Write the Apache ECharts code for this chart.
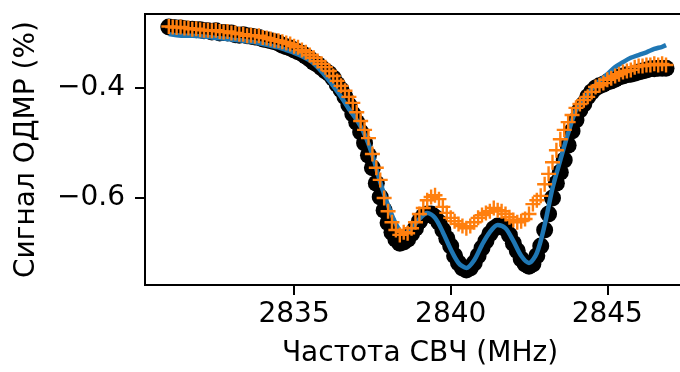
<!DOCTYPE html>
<html>
<head>
<meta charset="utf-8">
<script src="https://cdn.jsdelivr.net/npm/echarts@6/dist/echarts.min.js"></script>
<style>
  body { margin: 0; background: #fff; }
  #chart { width: 680px; height: 372px; }
</style>
</head>
<body>
<div id="chart"></div>
<script>
// частота СВЧ, MHz (шаг развертки)
const freq = [
  2831, 2831.125, 2831.25, 2831.375, 2831.5, 2831.625, 2831.75, 2831.875,
  2832, 2832.125, 2832.25, 2832.375, 2832.5, 2832.625, 2832.75, 2832.875,
  2833, 2833.125, 2833.25, 2833.375, 2833.5, 2833.625, 2833.75, 2833.875,
  2834, 2834.125, 2834.25, 2834.375, 2834.5, 2834.625, 2834.75, 2834.875,
  2835, 2835.125, 2835.25, 2835.375, 2835.5, 2835.625, 2835.75, 2835.875,
  2836, 2836.125, 2836.25, 2836.375, 2836.5, 2836.625, 2836.75, 2836.875,
  2837, 2837.125, 2837.25, 2837.375, 2837.5, 2837.625, 2837.75, 2837.875,
  2838, 2838.125, 2838.25, 2838.375, 2838.5, 2838.625, 2838.75, 2838.875,
  2839, 2839.125, 2839.25, 2839.375, 2839.5, 2839.625, 2839.75, 2839.875,
  2840, 2840.125, 2840.25, 2840.375, 2840.5, 2840.625, 2840.75, 2840.875,
  2841, 2841.125, 2841.25, 2841.375, 2841.5, 2841.625, 2841.75, 2841.875,
  2842, 2842.125, 2842.25, 2842.375, 2842.5, 2842.625, 2842.75, 2842.875,
  2843, 2843.125, 2843.25, 2843.375, 2843.5, 2843.625, 2843.75, 2843.875,
  2844, 2844.125, 2844.25, 2844.375, 2844.5, 2844.625, 2844.75, 2844.875,
  2845, 2845.125, 2845.25, 2845.375, 2845.5, 2845.625, 2845.75, 2845.875,
  2846, 2846.125, 2846.25, 2846.375, 2846.5, 2846.625, 2846.75, 2846.875
];

// сигнал ОДМР, черные точки
const signalBlack = [
  -0.290, -0.291, -0.292, -0.292, -0.293, -0.294, -0.294, -0.295,
  -0.295, -0.297, -0.297, -0.299, -0.297, -0.301, -0.300, -0.301,
  -0.301, -0.304, -0.305, -0.304, -0.306, -0.307, -0.308, -0.309,
  -0.312, -0.313, -0.315, -0.317, -0.319, -0.323, -0.326, -0.328,
  -0.332, -0.335, -0.338, -0.343, -0.348, -0.354, -0.358, -0.364,
  -0.370, -0.375, -0.383, -0.394, -0.404, -0.417, -0.432, -0.448,
  -0.463, -0.481, -0.501, -0.523, -0.546, -0.574, -0.599, -0.623,
  -0.646, -0.663, -0.676, -0.683, -0.681, -0.676, -0.666, -0.656,
  -0.643, -0.634, -0.630, -0.630, -0.636, -0.645, -0.659, -0.674,
  -0.688, -0.706, -0.719, -0.728, -0.732, -0.728, -0.719, -0.706,
  -0.692, -0.679, -0.666, -0.657, -0.652, -0.652, -0.657, -0.668,
  -0.683, -0.697, -0.712, -0.721, -0.725, -0.721, -0.706, -0.688,
  -0.659, -0.630, -0.601, -0.574, -0.554, -0.532, -0.505, -0.479,
  -0.459, -0.441, -0.430, -0.417, -0.408, -0.401, -0.397, -0.394,
  -0.390, -0.388, -0.385, -0.381, -0.379, -0.377, -0.376, -0.374,
  -0.372, -0.370, -0.368, -0.366, -0.366, -0.365, -0.365, -0.365
];

// сигнал ОДМР, оранжевые кресты
const signalOrange = [
  -0.289, -0.290, -0.291, -0.290, -0.292, -0.292, -0.294, -0.293,
  -0.295, -0.296, -0.296, -0.297, -0.296, -0.298, -0.299, -0.298,
  -0.301, -0.301, -0.303, -0.303, -0.306, -0.305, -0.307, -0.306,
  -0.309, -0.310, -0.312, -0.314, -0.315, -0.317, -0.319, -0.321,
  -0.325, -0.327, -0.332, -0.336, -0.341, -0.346, -0.352, -0.357,
  -0.363, -0.370, -0.379, -0.388, -0.397, -0.406, -0.417, -0.428,
  -0.445, -0.461, -0.477, -0.492, -0.521, -0.546, -0.568, -0.601,
  -0.625, -0.645, -0.659, -0.668, -0.663, -0.665, -0.656, -0.645,
  -0.630, -0.619, -0.605, -0.599, -0.596, -0.603, -0.617, -0.628,
  -0.637, -0.643, -0.648, -0.652, -0.656, -0.652, -0.645, -0.637,
  -0.632, -0.628, -0.625, -0.619, -0.623, -0.625, -0.630, -0.636,
  -0.641, -0.645, -0.643, -0.639, -0.630, -0.612, -0.605, -0.597,
  -0.576, -0.557, -0.536, -0.514, -0.494, -0.477, -0.463, -0.450,
  -0.437, -0.430, -0.423, -0.417, -0.408, -0.399, -0.396, -0.392,
  -0.386, -0.383, -0.379, -0.376, -0.372, -0.370, -0.368, -0.363,
  -0.361, -0.361, -0.359, -0.359, -0.357, -0.359, -0.357, -0.359
];

// аппроксимация (синяя линия)
const fitFreq = [
  2831, 2831.25, 2831.5, 2831.75, 2832, 2832.25, 2832.5, 2832.75,
  2833, 2833.25, 2833.5, 2833.75, 2834, 2834.25, 2834.5, 2834.75,
  2835, 2835.25, 2835.5, 2835.75, 2836, 2836.25, 2836.5, 2836.75,
  2837, 2837.25, 2837.5, 2837.75, 2838, 2838.25, 2838.5, 2838.75,
  2839, 2839.25, 2839.5, 2839.75, 2840, 2840.25, 2840.5, 2840.75,
  2841, 2841.25, 2841.5, 2841.75, 2842, 2842.25, 2842.5, 2842.75,
  2843, 2843.25, 2843.5, 2843.75, 2844, 2844.25, 2844.5, 2844.75,
  2845, 2845.25, 2845.5, 2845.75, 2846, 2846.25, 2846.5, 2846.75,
  2846.875
];
const fitSignal = [
  -0.303, -0.305, -0.306, -0.306, -0.307, -0.308, -0.310, -0.311,
  -0.313, -0.314, -0.316, -0.318, -0.321, -0.324, -0.327, -0.332,
  -0.337, -0.343, -0.351, -0.363, -0.379, -0.397, -0.417, -0.439,
  -0.459, -0.485, -0.523, -0.572, -0.614, -0.648, -0.666, -0.656,
  -0.639, -0.628, -0.637, -0.663, -0.694, -0.719, -0.728, -0.714,
  -0.686, -0.663, -0.650, -0.656, -0.679, -0.706, -0.719, -0.701,
  -0.650, -0.583, -0.532, -0.483, -0.441, -0.421, -0.403, -0.388,
  -0.376, -0.363, -0.354, -0.346, -0.341, -0.336, -0.330, -0.326,
  -0.323
];

const xTicks = [2835, 2840, 2845];
const yTicks = [-0.6, -0.4];

const FONT = "DejaVu Sans";
const FS = 28;
const plusPath = "path://M0,4.2 L10,4.2 L10,5.8 L0,5.8 Z M4.2,0 L5.8,0 L5.8,10 L4.2,10 Z";

let chartDom = document.getElementById("chart");
let myChart = echarts.init(chartDom);

let option = {
  animation: false,
  backgroundColor: "#fff",
  grid: {
    left: 145,
    right: -15,
    top: 14,
    bottom: 87,
    outerBoundsMode: "none",
    containLabel: false,
    show: true,
    borderColor: "#000",
    borderWidth: 2,
  },
  xAxis: {
    type: "value",
    min: 2830.24,
    max: 2847.8,
    name: "Частота СВЧ (MHz)",
    nameLocation: "middle",
    nameGap: 55,
    nameTextStyle: { fontFamily: FONT, fontSize: FS, color: "#000" },
    axisLine: { show: true, onZero: false, lineStyle: { color: "#000", width: 2 } },
    axisTick: { show: true, customValues: xTicks, length: 10, lineStyle: { color: "#000", width: 2 } },
    axisLabel: {
      customValues: xTicks,
      margin: 16,
      fontFamily: FONT,
      fontSize: FS,
      color: "#000",
      formatter: function (v) {
        return String(v);
      },
    },
    splitLine: { show: false },
  },
  yAxis: {
    type: "value",
    min: -0.7591,
    max: -0.2664,
    name: "Сигнал ОДМР (%)",
    nameLocation: "middle",
    nameGap: 104,
    nameTextStyle: { fontFamily: FONT, fontSize: FS, color: "#000" },
    axisLine: { show: true, onZero: false, lineStyle: { color: "#000", width: 2 } },
    axisTick: { show: true, customValues: yTicks, length: 10, lineStyle: { color: "#000", width: 2 } },
    axisLabel: {
      customValues: yTicks,
      margin: 20,
      fontFamily: FONT,
      fontSize: FS,
      color: "#000",
      formatter: function (v) {
        return v.toFixed(1).replace("-", "\u2212");
      },
    },
    splitLine: { show: false },
  },
  series: [
    {
      name: "data",
      type: "scatter",
      symbol: "circle",
      symbolSize: 17,
      itemStyle: { color: "#000", opacity: 1 },
      data: freq.map((f, i) => [f, signalBlack[i]]),
      silent: true,
      z: 2,
    },
    {
      name: "fit",
      type: "line",
      smooth: 0.3,
      showSymbol: false,
      lineStyle: { color: "#1f77b4", width: 4.5 },
      data: fitFreq.map((f, i) => [f, fitSignal[i]]),
      silent: true,
      z: 3,
    },
    {
      name: "data2",
      type: "scatter",
      symbol: plusPath,
      symbolSize: 15,
      itemStyle: { color: "#ff7f0e", opacity: 1 },
      data: freq.map((f, i) => [f, signalOrange[i]]),
      silent: true,
      z: 4,
    },
  ],
};

option && myChart.setOption(option);
</script>
</body>
</html>
